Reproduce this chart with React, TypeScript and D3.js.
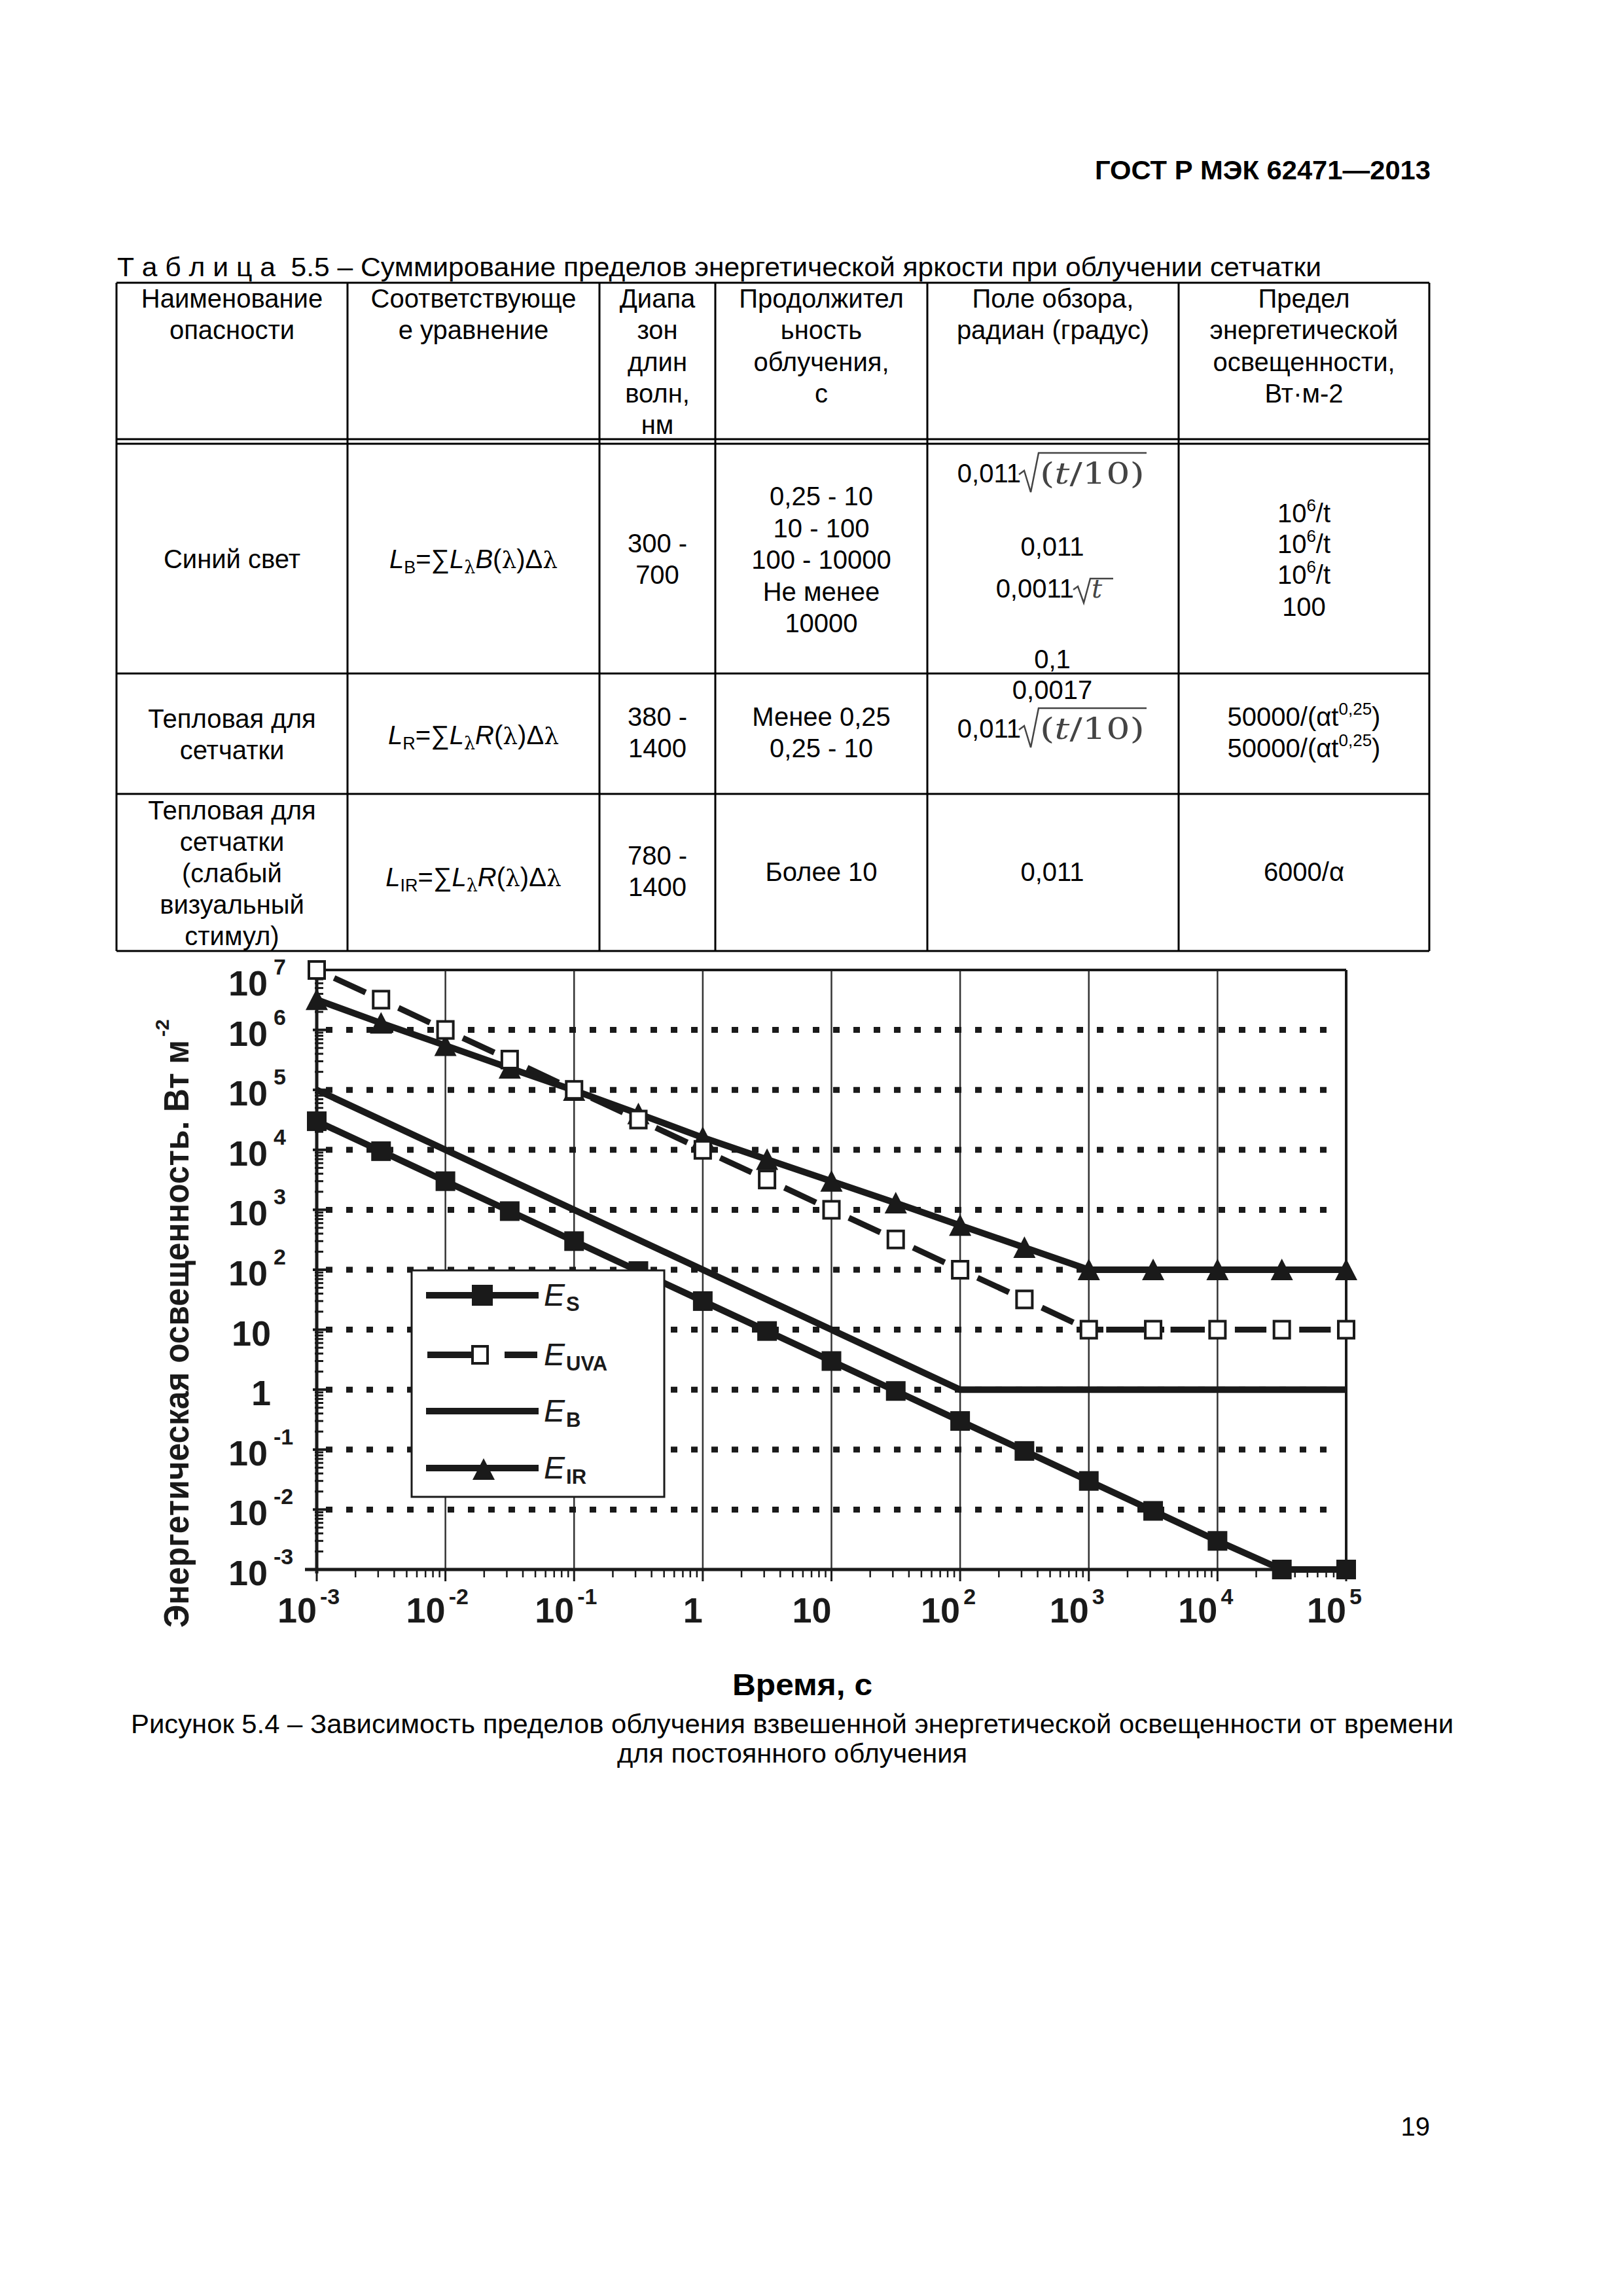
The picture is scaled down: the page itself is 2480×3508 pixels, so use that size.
import React from "react";
import * as d3 from "d3";

const SANS = "'Liberation Sans', Arial, Helvetica, sans-serif";
const SERIF = "'DejaVu Serif', 'Liberation Serif', serif";

// ---------------- chart data ----------------
const times = [0.001, 0.00316, 0.01, 0.0316, 0.1, 0.316, 1, 3.16, 10, 31.6, 100, 316, 1000, 3162, 10000, 31623, 100000];
const seriesES = [3e4, 9.5e3, 3e3, 950, 300, 95, 30, 9.5, 3, 0.95, 0.3, 0.095, 0.03, 0.0095, 0.003, 0.001, 0.001];
const seriesEUVA = [1e7, 3.2e6, 1e6, 3.2e5, 1e5, 3.2e4, 1e4, 3.2e3, 1e3, 320, 100, 32, 10, 10, 10, 10, 10];
const seriesEIR = [3.2e6, 1.3e6, 5.5e5, 2.3e5, 9.8e4, 4e4, 1.6e4, 6.9e3, 3e3, 1.3e3, 550, 235, 100, 100, 100, 100, 100];
const timesEB = [0.001, 100, 100000];
const seriesEB = [1e5, 1, 1];

const xTickValues = [1e-3, 1e-2, 1e-1, 1, 10, 1e2, 1e3, 1e4, 1e5];
const xTickBase = ["10", "10", "10", "1", "10", "10", "10", "10", "10"];
const xTickSup = ["-3", "-2", "-1", "", "", "2", "3", "4", "5"];
const yTickValues = [1e-3, 1e-2, 1e-1, 1, 10, 1e2, 1e3, 1e4, 1e5, 1e6, 1e7];
const yTickBase = ["10", "10", "10", "1", "10", "10", "10", "10", "10", "10", "10"];
const yTickSup = ["-3", "-2", "-1", "", "", "2", "3", "4", "5", "6", "7"];
const legendMain = ["E", "E", "E", "E"];
const legendSub = ["S", "UVA", "B", "IR"];

const yAxisTitle = "Энергетическая освещенность. Вт м";
const yAxisTitleSup = "-2";
const xAxisTitle = "Время, с";

// ---------------- page text ----------------
const docHeader = "ГОСТ Р МЭК 62471—2013";
const tableTitle = "Т а б л и ц а  5.5 – Суммирование пределов энергетической яркости при облучении сетчатки";
const tableHeaders = [
  ["Наименование", "опасности"],
  ["Соответствующе", "е уравнение"],
  ["Диапа", "зон", "длин", "волн,", "нм"],
  ["Продолжител", "ьность", "облучения,", "с"],
  ["Поле обзора,", "радиан (градус)"],
  ["Предел", "энергетической", "освещенности,", "Вт·м-2"],
];
const row1Name = ["Синий свет"];
const row1Range = ["300 -", "700"];
const row1Dur = ["0,25 - 10", "10 - 100", "100 - 10000", "Не менее", "10000"];
const row2Name = ["Тепловая для", "сетчатки"];
const row2Range = ["380 -", "1400"];
const row2Dur = ["Менее 0,25", "0,25 - 10"];
const row3Name = ["Тепловая для", "сетчатки", "(слабый", "визуальный", "стимул)"];
const row3Range = ["780 -", "1400"];
const row3Dur = ["Более 10"];
const captionLines = [
  "Рисунок 5.4 – Зависимость пределов облучения взвешенной энергетической освещенности от времени",
  "для постоянного облучения",
];
const pageNumber = "19";

// ---------------- layout ----------------
const colX = [178, 531, 916, 1093, 1417, 1801, 2184];
const colC = colX.slice(0, 6).map((v, i) => (v + colX[i + 1]) / 2);
const T_TOP = 432, T_HEAD1 = 671, T_HEAD2 = 678, T_R1 = 1029, T_R2 = 1213, T_BOT = 1453;

const PL = 484, PR = 2057, PT = 1482, PB = 2398;

const FS = 40;

function Lines({ x, y0, lh, lines }: { x: number; y0: number; lh: number; lines: string[] }) {
  return (
    <g>
      {lines.map((s, i) => (
        <text key={i} x={x} y={y0 + i * lh} textAnchor="middle" fontSize={FS} fontFamily={SANS}>
          {s}
        </text>
      ))}
    </g>
  );
}

function Formula({ x, y, sub, fn }: { x: number; y: number; sub: string; fn: string }) {
  return (
    <text x={x} y={y} textAnchor="middle" fontSize={FS} fontFamily={SANS}>
      <tspan fontStyle="italic">L</tspan>
      <tspan fontSize={27} dy={8}>{sub}</tspan>
      <tspan dy={-8}>=∑</tspan>
      <tspan fontStyle="italic">L</tspan>
      <tspan fontSize={27} dy={8} fontFamily={SERIF}>λ</tspan>
      <tspan dy={-8} fontStyle="italic">{fn}</tspan>
      <tspan>(</tspan>
      <tspan fontFamily={SERIF} fontSize={36}>λ</tspan>
      <tspan>)Δ</tspan>
      <tspan fontFamily={SERIF} fontSize={36}>λ</tspan>
    </text>
  );
}

function SqrtT10({ y }: { y: number }) {
  // "0,011" + radical over (t/10)
  return (
    <g>
      <text x={1560} y={y} textAnchor="end" fontSize={FS} fontFamily={SANS}>0,011</text>
      <path
        d={`M1557,${y - 12} L1565,${y - 18} L1575,${y + 15} L1587,${y - 45} L1752,${y - 45}`}
        fill="none"
        stroke="#444"
        strokeWidth={2.5}
      />
      <text x={1589} y={y + 2} fontSize={44} fontFamily={SERIF} fill="#444" textLength={160} lengthAdjust="spacingAndGlyphs">
        (<tspan fontStyle="italic">t</tspan>/10)
      </text>
    </g>
  );
}

function SqrtT({ y }: { y: number }) {
  return (
    <g>
      <text x={1641} y={y} textAnchor="end" fontSize={FS} fontFamily={SANS}>0,0011</text>
      <path
        d={`M1640,${y - 12} L1647,${y - 17} L1656,${y + 8} L1666,${y - 29} L1701,${y - 29}`}
        fill="none"
        stroke="#444"
        strokeWidth={2.5}
      />
      <text x={1668} y={y} fontSize={40} fontFamily={SERIF} fontStyle="italic" fill="#444">t</text>
    </g>
  );
}

function TenSixT({ y }: { y: number }) {
  return (
    <text x={colC[5]} y={y} textAnchor="middle" fontSize={FS} fontFamily={SANS}>
      10<tspan fontSize={26} dy={-17}>6</tspan>
      <tspan dy={17}>/t</tspan>
    </text>
  );
}

function Alpha025({ y }: { y: number }) {
  return (
    <text x={colC[5]} y={y} textAnchor="middle" fontSize={FS} fontFamily={SANS}>
      50000/(αt<tspan fontSize={26} dy={-17}>0,25</tspan>
      <tspan dy={17}>)</tspan>
    </text>
  );
}

function Table() {
  const lines: JSX.Element[] = [];
  const sw = 3;
  // horizontal lines
  [T_TOP, T_HEAD1, T_HEAD2, T_R1, T_R2, T_BOT].forEach((yy, i) =>
    lines.push(<line key={"h" + i} x1={colX[0]} x2={colX[6]} y1={yy} y2={yy} stroke="#000" strokeWidth={sw} />)
  );
  colX.forEach((xx, i) =>
    lines.push(<line key={"v" + i} x1={xx} x2={xx} y1={T_TOP} y2={T_BOT} stroke="#000" strokeWidth={sw} />)
  );
  return (
    <g>
      <text x={179} y={422} fontSize={FS} fontFamily={SANS} textLength={1840} lengthAdjust="spacingAndGlyphs" style={{ whiteSpace: "pre" }}>
        {tableTitle}
      </text>
      {lines}
      {tableHeaders.map((h, i) => (
        <Lines key={i} x={colC[i]} y0={470} lh={48.3} lines={h} />
      ))}
      {/* row 1 */}
      <Lines x={colC[0]} y0={868} lh={48} lines={row1Name} />
      <Formula x={colC[1]} y={868} sub="B" fn="B" />
      <Lines x={colC[2]} y0={844} lh={48} lines={row1Range} />
      <Lines x={colC[3]} y0={772} lh={48.5} lines={row1Dur} />
      <SqrtT10 y={737} />
      <text x={1608} y={849} textAnchor="middle" fontSize={FS} fontFamily={SANS}>0,011</text>
      <SqrtT y={913} />
      <text x={1608} y={1021} textAnchor="middle" fontSize={FS} fontFamily={SANS}>0,1</text>
      <TenSixT y={798} />
      <TenSixT y={845} />
      <TenSixT y={892} />
      <text x={colC[5]} y={941} textAnchor="middle" fontSize={FS} fontFamily={SANS}>100</text>
      {/* row 2 */}
      <Lines x={colC[0]} y0={1112} lh={48} lines={row2Name} />
      <Formula x={colC[1]} y={1137} sub="R" fn="R" />
      <Lines x={colC[2]} y0={1109} lh={48} lines={row2Range} />
      <Lines x={colC[3]} y0={1109} lh={48} lines={row2Dur} />
      <text x={1608} y={1068} textAnchor="middle" fontSize={FS} fontFamily={SANS}>0,0017</text>
      <SqrtT10 y={1127} />
      <Alpha025 y={1109} />
      <Alpha025 y={1157} />
      {/* row 3 */}
      <Lines x={colC[0]} y0={1252} lh={48} lines={row3Name} />
      <Formula x={colC[1]} y={1354} sub="IR" fn="R" />
      <Lines x={colC[2]} y0={1321} lh={48} lines={row3Range} />
      <Lines x={colC[3]} y0={1346} lh={48} lines={row3Dur} />
      <text x={1608} y={1346} textAnchor="middle" fontSize={FS} fontFamily={SANS}>0,011</text>
      <text x={colC[5]} y={1346} textAnchor="middle" fontSize={FS} fontFamily={SANS}>6000/α</text>
    </g>
  );
}

function Chart() {
  const x = d3.scaleLog().domain([1e-3, 1e5]).range([PL, PR]);
  const y = d3.scaleLog().domain([1e-3, 1e7]).range([PB, PT]);
  const ink = "#1a1a1a";

  const lineGen = d3
    .line<[number, number]>()
    .x((d) => x(d[0]))
    .y((d) => y(d[1]));

  const esPts = times.map((t, i) => [t, seriesES[i]] as [number, number]);
  const uvaPts = times.map((t, i) => [t, seriesEUVA[i]] as [number, number]);
  const irPts = times.map((t, i) => [t, seriesEIR[i]] as [number, number]);
  const ebPts = timesEB.map((t, i) => [t, seriesEB[i]] as [number, number]);

  const minors: number[] = [];
  for (let k = -3; k < 5; k++) for (let m = 2; m <= 9; m++) minors.push(m * Math.pow(10, k));
  const yMinors: number[] = [];
  for (let k = -3; k < 7; k++) for (let m = 2; m <= 9; m++) yMinors.push(m * Math.pow(10, k));

  const tri = (cx: number, cy: number, s = 17) =>
    `M${cx},${cy - s} L${cx + s},${cy + s - 1} L${cx - s},${cy + s - 1} Z`;

  // legend
  const LX0 = 629, LX1 = 1015, LY0 = 1941, LY1 = 2287;
  const rowY = [1979, 2070, 2156, 2243];

  return (
    <g>
      {/* vertical solid gridlines */}
      {xTickValues.slice(1, -1).map((v, i) => (
        <line key={"vg" + i} x1={x(v)} x2={x(v)} y1={PT} y2={PB} stroke="#333" strokeWidth={2.5} />
      ))}
      {/* horizontal dotted gridlines */}
      {yTickValues.slice(1, -1).map((v, i) => (
        <line
          key={"hg" + i}
          x1={PL + 14}
          x2={PR - 12}
          y1={y(v)}
          y2={y(v)}
          stroke={ink}
          strokeWidth={9}
          strokeDasharray="10 21"
        />
      ))}
      {/* frame */}
      <line x1={PL} x2={PR} y1={PT} y2={PT} stroke={ink} strokeWidth={4} />
      <line x1={PR} x2={PR} y1={PT} y2={PB} stroke={ink} strokeWidth={4} />
      <line x1={PL} x2={PL} y1={PT} y2={PB + 6} stroke={ink} strokeWidth={5} />
      <line x1={PL - 18} x2={PR + 4} y1={PB} y2={PB} stroke={ink} strokeWidth={5} />
      {/* x ticks */}
      {minors.map((v, i) => (
        <line key={"xm" + i} x1={x(v)} x2={x(v)} y1={PB} y2={PB + 12} stroke={ink} strokeWidth={2.5} />
      ))}
      {xTickValues.map((v, i) => (
        <line key={"xM" + i} x1={x(v)} x2={x(v)} y1={PB} y2={PB + 18} stroke={ink} strokeWidth={3} />
      ))}
      {/* y ticks */}
      {yMinors.map((v, i) => (
        <line key={"ym" + i} x1={PL - 3} x2={PL + 10} y1={y(v)} y2={y(v)} stroke={ink} strokeWidth={3} />
      ))}
      {yTickValues.map((v, i) => (
        <line key={"yM" + i} x1={PL - 6} x2={PL + 16} y1={y(v)} y2={y(v)} stroke={ink} strokeWidth={4} />
      ))}
      {/* x tick labels */}
      {xTickValues.map((v, i) => (
        <g key={"xl" + i}>
          <text x={x(v)} y={2479} textAnchor="end" fontSize={54} fontWeight="bold" fontFamily={SANS} fill={ink}>
            {xTickBase[i]}
          </text>
          {xTickSup[i] && (
            <text x={x(v) + 5} y={2451} fontSize={34} fontWeight="bold" fontFamily={SANS} fill={ink}>
              {xTickSup[i]}
            </text>
          )}
        </g>
      ))}
      {/* y tick labels */}
      {yTickValues.map((v, i) => {
        const by = Math.max(y(v) + 24, PT + 39);
        return (
          <g key={"yl" + i}>
            <text x={yTickSup[i] ? 409 : 414} y={by} textAnchor="end" fontSize={54} fontWeight="bold" fontFamily={SANS} fill={ink}>
              {yTickBase[i]}
            </text>
            {yTickSup[i] && (
              <text x={418} y={by - 32} fontSize={34} fontWeight="bold" fontFamily={SANS} fill={ink}>
                {yTickSup[i]}
              </text>
            )}
          </g>
        );
      })}

      {/* E_B */}
      <path d={lineGen(ebPts) || ""} fill="none" stroke={ink} strokeWidth={10} />
      {/* E_S */}
      <path d={lineGen(esPts) || ""} fill="none" stroke={ink} strokeWidth={10} />
      {esPts.map((p, i) => (
        <rect key={"es" + i} x={x(p[0]) - 15} y={y(p[1]) - 15} width={30} height={30} fill={ink} />
      ))}
      {/* E_IR */}
      <path d={lineGen(irPts) || ""} fill="none" stroke={ink} strokeWidth={10} />
      {irPts.map((p, i) => (
        <path key={"ir" + i} d={tri(x(p[0]), y(p[1]))} fill={ink} />
      ))}
      {/* E_UVA dashed */}
      {uvaPts.slice(0, -1).map((p, i) => {
        const q = uvaPts[i + 1];
        const x0 = x(p[0]), y0 = y(p[1]), x1 = x(q[0]), y1 = y(q[1]);
        const a = 0.27, b = 0.76;
        return (
          <line
            key={"ud" + i}
            x1={x0 + (x1 - x0) * a}
            y1={y0 + (y1 - y0) * a}
            x2={x0 + (x1 - x0) * b}
            y2={y0 + (y1 - y0) * b}
            stroke={ink}
            strokeWidth={9}
          />
        );
      })}
      {uvaPts.map((p, i) => (
        <rect
          key={"uv" + i}
          x={x(p[0]) - 12}
          y={y(p[1]) - 13}
          width={24}
          height={26}
          fill="#fff"
          stroke={ink}
          strokeWidth={4}
        />
      ))}

      {/* legend */}
      <rect x={LX0} y={LY0} width={LX1 - LX0} height={LY1 - LY0} fill="#fff" stroke={ink} strokeWidth={3} />
      {/* row 0: E_S */}
      <line x1={651} x2={823} y1={rowY[0]} y2={rowY[0]} stroke={ink} strokeWidth={10} />
      <rect x={737 - 16} y={rowY[0] - 16} width={32} height={32} fill={ink} />
      {/* row 1: E_UVA */}
      <line x1={653} x2={720} y1={rowY[1]} y2={rowY[1]} stroke={ink} strokeWidth={10} />
      <rect x={722} y={rowY[1] - 13} width={23} height={26} fill="#fff" stroke={ink} strokeWidth={4} />
      <line x1={771} x2={821} y1={rowY[1]} y2={rowY[1]} stroke={ink} strokeWidth={10} />
      {/* row 2: E_B */}
      <line x1={651} x2={823} y1={rowY[2]} y2={rowY[2]} stroke={ink} strokeWidth={10} />
      {/* row 3: E_IR */}
      <line x1={651} x2={823} y1={rowY[3]} y2={rowY[3]} stroke={ink} strokeWidth={10} />
      <path d={tri(739, rowY[3] + 2, 17)} fill={ink} />
      {legendMain.map((m, i) => (
        <text key={"lg" + i} x={831} y={rowY[i] + 16} fontSize={48} fontStyle="italic" fontFamily={SANS} fill={ink}>
          {m}
          <tspan fontSize={31} fontStyle="normal" fontWeight="bold" dx={2} dy={8}>
            {legendSub[i]}
          </tspan>
        </text>
      ))}

      {/* axis titles */}
      <text
        transform="translate(288,2487) rotate(-90)"
        fontSize={54}
        fontWeight="bold"
        fontFamily={SANS}
        fill={ink}
        textLength={898}
        lengthAdjust="spacingAndGlyphs"
      >
        {yAxisTitle}
      </text>
      <text transform="translate(258,1584) rotate(-90)" fontSize={30} fontWeight="bold" fontFamily={SANS} fill={ink}>
        {yAxisTitleSup}
      </text>
      <text
        x={1119}
        y={2590}
        fontSize={46}
        fontWeight="bold"
        fontFamily={SANS}
        fill="#000"
        textLength={214}
        lengthAdjust="spacingAndGlyphs"
      >
        {xAxisTitle}
      </text>
    </g>
  );
}

export default function App() {
  return (
    <svg width={2480} height={3508} viewBox="0 0 2480 3508" style={{ display: "block", position: "absolute", left: 0, top: 0, background: "#fff" }}>
      <rect x={0} y={0} width={2480} height={3508} fill="#fff" />
      <text x={2186} y={274} textAnchor="end" fontSize={40} fontWeight="bold" fontFamily={SANS} textLength={513} lengthAdjust="spacingAndGlyphs">
        {docHeader}
      </text>
      <Table />
      <Chart />
      <text x={200} y={2648} fontSize={FS} fontFamily={SANS} textLength={2021} lengthAdjust="spacingAndGlyphs">
        {captionLines[0]}
      </text>
      <text x={943} y={2693} fontSize={FS} fontFamily={SANS} textLength={535} lengthAdjust="spacingAndGlyphs">
        {captionLines[1]}
      </text>
      <text x={2185} y={3263} textAnchor="end" fontSize={FS} fontFamily={SANS}>
        {pageNumber}
      </text>
    </svg>
  );
}
